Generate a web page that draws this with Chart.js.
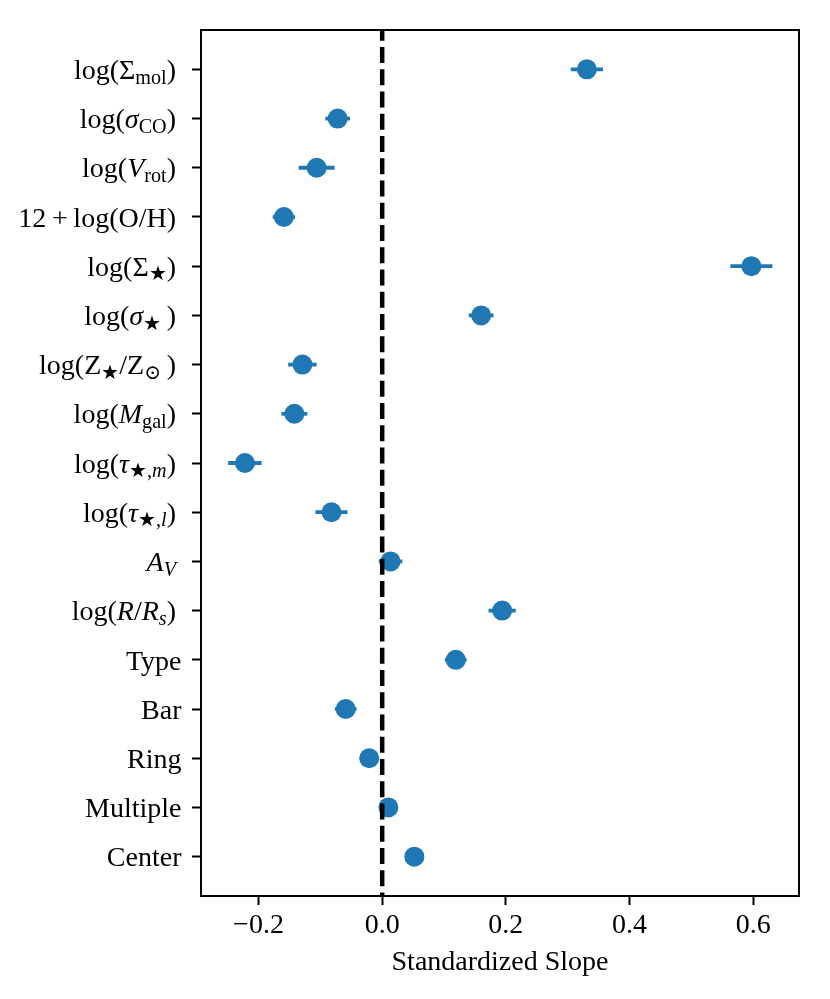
<!DOCTYPE html>
<html>
<head>
<meta charset="utf-8">
<script src="https://cdn.jsdelivr.net/npm/chart.js@4.4.1/dist/chart.umd.min.js"></script>
<style>
  html, body { margin: 0; padding: 0; background: #fff; }
  #wrap { width: 830px; height: 999px; }
</style>
</head>
<body>
<div id="wrap"><canvas id="slopeChart"></canvas></div>
<script>
// categories, top to bottom. *..* = italic, _{..} = subscript
const categories = [
    'log(Σ_{mol})',
    'log(*σ*_{CO})',
    'log(*V*_{rot})',
    '12\u2009+\u2009log(O/H)',
    'log(Σ_{★})',
    'log(*σ*_{★}\u2009)',
    'log(Z_{★}/Z_{⊙}\u2009)',
    'log(*M*_{gal})',
    'log(*τ*_{★,*m*})',
    'log(*τ*_{★,*l*})',
    '*A*_{*V*}',
    'log(*R*/*R*_{*s*})',
    'Type',
    'Bar',
    'Ring',
    'Multiple',
    'Center'
];
const slopes = [0.331, -0.072, -0.106, -0.159, 0.597, 0.160, -0.129, -0.142, -0.222, -0.082, 0.0135, 0.194, 0.119, -0.059, -0.021, 0.010, 0.052];
const slopeErrors = [0.026, 0.020, 0.029, 0.018, 0.034, 0.020, 0.023, 0.021, 0.027, 0.026, 0.019, 0.022, 0.0175, 0.0175, 0.012, 0.012, 0.011];
const xTickValues = [-0.2, 0.0, 0.2, 0.4, 0.6];
const xTickLabels = ['\u22120.2', '0.0', '0.2', '0.4', '0.6'];
const xTitle = 'Standardized Slope';

const BLUE = '#1f77b4';
const FONT = '"Liberation Serif", "DejaVu Serif", serif';
const FS = 28;

Chart.defaults.font.family = FONT;
Chart.defaults.color = '#000';

function parseLabel(s) {
    const parts = [];
    let italic = false, sub = false, buf = '';
    const push = () => { if (buf) parts.push({ t: buf, i: italic, s: sub }); buf = ''; };
    for (let k = 0; k < s.length; k++) {
        const c = s[k];
        if (c === '*') { push(); italic = !italic; }
        else if (c === '_' && s[k + 1] === '{') { push(); sub = true; k++; }
        else if (c === '}' && sub) { push(); sub = false; }
        else buf += c;
    }
    push();
    return parts;
}

const partFont = p => `${p.i ? 'italic ' : ''}${p.s ? FS * 0.72 : FS}px ${FONT}`;

const decorations = {
    id: 'decorations',
    beforeDatasetsDraw(chart) {
        const { ctx, scales: { x, y } } = chart;
        ctx.save();
        ctx.strokeStyle = BLUE;
        ctx.lineWidth = 3.8;
        slopes.forEach((v, i) => {
            const py = y.getPixelForValue(i);
            ctx.beginPath();
            ctx.moveTo(x.getPixelForValue(v - slopeErrors[i]), py);
            ctx.lineTo(x.getPixelForValue(v + slopeErrors[i]), py);
            ctx.stroke();
        });
        ctx.restore();
    },
    afterDatasetsDraw(chart) {
        const { ctx, chartArea: a, scales: { x } } = chart;
        const px = x.getPixelForValue(0);
        ctx.save();
        ctx.strokeStyle = '#000';
        ctx.lineWidth = 4.5;
        ctx.setLineDash([16, 6.25]);
        ctx.lineDashOffset = 5.3;
        ctx.beginPath();
        ctx.moveTo(px, a.top);
        ctx.lineTo(px, a.bottom);
        ctx.stroke();
        ctx.restore();
    },
    afterDraw(chart) {
        const { ctx, chartArea: a, scales: { y } } = chart;
        ctx.save();
        ctx.strokeStyle = '#000';
        ctx.lineWidth = 2;
        ctx.strokeRect(a.left, a.top, a.right - a.left, a.bottom - a.top);

        // y tick labels with sub/italic parts
        ctx.fillStyle = '#000';
        ctx.textBaseline = 'alphabetic';
        ctx.textAlign = 'left';
        categories.forEach((lab, i) => {
            const parts = parseLabel(lab);
            const isWord = /^[A-Za-z]+$/.test(lab);
            const right = a.left - (isWord ? 19.5 : 25);
            let w = 0;
            parts.forEach(p => { ctx.font = partFont(p); p.w = ctx.measureText(p.t).width; w += p.w; });
            let cx = right - w;
            const base = y.getPixelForValue(i) + 9.7;
            parts.forEach(p => {
                ctx.font = partFont(p);
                ctx.fillText(p.t, cx, base + (p.s ? 4.5 : 0));
                cx += p.w;
            });
        });
        ctx.restore();
    }
};

new Chart(document.getElementById('slopeChart'), {
    type: 'scatter',
    data: {
        datasets: [{
            data: slopes.map((v, i) => ({ x: v, y: i })),
            backgroundColor: BLUE,
            pointBackgroundColor: BLUE,
            pointBorderWidth: 0,
            pointRadius: 10,
            pointHoverRadius: 10
        }]
    },
    options: {
        responsive: true,
        maintainAspectRatio: false,
        animation: false,
        layout: { padding: { top: 30, right: 31, bottom: 0, left: 0 } },
        plugins: { legend: { display: false }, tooltip: { enabled: false } },
        scales: {
            x: {
                type: 'linear',
                min: -0.293,
                max: 0.674,
                afterBuildTicks: s => { s.ticks = xTickValues.map(v => ({ value: v })); },
                afterFit: s => { s.height = 103; },
                ticks: {
                    callback: (v, i) => xTickLabels[i],
                    padding: 4,
                    font: { size: FS },
                    color: '#000',
                    maxRotation: 0,
                    autoSkip: false
                },
                grid: { drawOnChartArea: false, drawTicks: true, tickLength: 9, tickWidth: 2, tickColor: '#000' },
                border: { display: false },
                title: { display: true, text: xTitle, font: { size: FS }, color: '#000', padding: { top: 0, bottom: 20 } }
            },
            y: {
                type: 'linear',
                reverse: true,
                min: -0.8,
                max: 16.8,
                afterBuildTicks: s => { s.ticks = categories.map((_, i) => ({ value: i })); },
                afterFit: s => { s.width = 201; },
                ticks: { callback: () => '', padding: 0 },
                grid: { drawOnChartArea: false, drawTicks: true, tickLength: 9, tickWidth: 2, tickColor: '#000' },
                border: { display: false }
            }
        }
    },
    plugins: [decorations]
});
</script>
</body>
</html>
